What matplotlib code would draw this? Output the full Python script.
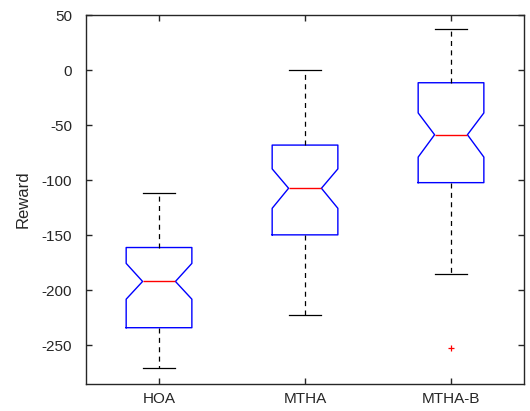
import matplotlib
matplotlib.use("Agg")
import matplotlib.pyplot as plt

plt.rcParams['font.family'] = ['Liberation Sans', 'DejaVu Sans']
plt.rcParams['axes.unicode_minus'] = False

# box summaries
labels = ["HOA", "MTHA", "MTHA-B"]
med = [-191.9, -107.3, -58.7]
q1 = [-233.9, -149.6, -102.2]
q3 = [-161.1, -68.1, -11.5]
ci_lo = [-208.0, -125.5, -79.0]
ci_hi = [-175.5, -89.7, -38.9]
whis_lo = [-270.3, -222.0, -184.9]
whis_hi = [-111.9, 0.0, 37.1]
outliers = [[], [], [-252.1]]

stats = []
for i in range(len(labels)):
    stats.append(dict(label=labels[i], med=med[i], q1=q1[i], q3=q3[i],
                      cilo=ci_lo[i], cihi=ci_hi[i],
                      whislo=whis_lo[i], whishi=whis_hi[i],
                      fliers=outliers[i]))

fig = plt.figure(figsize=(5.3, 4.11), dpi=100)
ax = fig.add_axes([0.1623, 0.0657, 0.8264, 0.8978])

ax.bxp(stats, shownotches=True, widths=0.45,
       boxprops=dict(color='blue', linewidth=1.0),
       medianprops=dict(color='red', linewidth=1.0),
       whiskerprops=dict(color='black', linewidth=0.9, linestyle=(0, (4, 3.5))),
       capprops=dict(color='black', linewidth=0.9),
       flierprops=dict(marker='+', markeredgecolor='red', markersize=4,
                       markeredgewidth=0.9, linestyle='none'))

ax.set_xlim(0.5, 3.5)
ax.set_ylim(-285, 50)
ax.set_yticks([50, 0, -50, -100, -150, -200, -250])
ax.tick_params(direction='in', top=True, right=True, labelsize=11,
               colors='#262626', length=4, width=1)
ax.tick_params(axis='y', pad=10)
ax.tick_params(axis='x', pad=6)
for s in ax.spines.values():
    s.set_color('#262626')
    s.set_linewidth(1.0)
ax.set_ylabel("Reward", fontsize=12, color='#262626', labelpad=8)

plt.savefig('out.png', dpi=100)
